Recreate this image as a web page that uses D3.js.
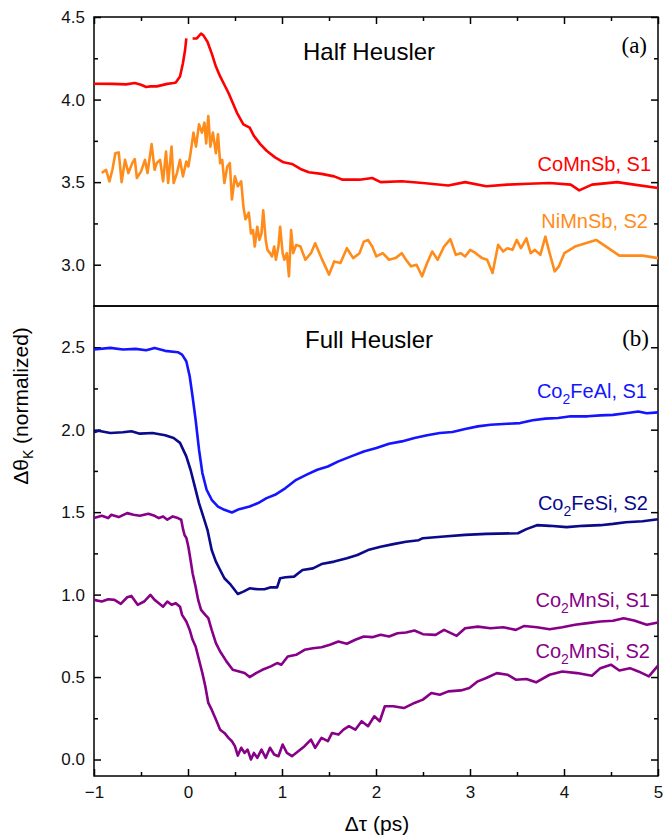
<!DOCTYPE html>
<html>
<head>
<meta charset="utf-8">
<script src="https://cdn.jsdelivr.net/npm/d3@7"></script>
<style>
  html, body { margin: 0; padding: 0; background: #fff; }
  svg { display: block; }
  text { font-family: "Liberation Sans", Arial, sans-serif; }
</style>
</head>
<body>
<svg id="chart" width="663" height="839"></svg>
<script>
// ---------- data ----------
const xTickValues = [-1, 0, 1, 2, 3, 4, 5];
const topTickValues = [3.0, 3.5, 4.0, 4.5];
const bottomTickValues = [0.0, 0.5, 1.0, 1.5, 2.0, 2.5];

const coMnSb = [[-1.00,4.096],[-0.80,4.095],[-0.66,4.092],[-0.566,4.10],[-0.50,4.09],[-0.445,4.076],[-0.40,4.08],[-0.333,4.08],[-0.22,4.095],[-0.153,4.10],[-0.13,4.104],[-0.085,4.14],[-0.054,4.22],[-0.031,4.30],[-0.018,4.37],null,[0.049,4.37],[0.094,4.37],[0.139,4.40],[0.162,4.39],[0.207,4.35],[0.252,4.28],[0.297,4.20],[0.342,4.14],[0.431,4.04],[0.521,3.92],[0.589,3.85],[0.656,3.83],[0.701,3.78],[0.769,3.73],[0.836,3.69],[0.926,3.65],[1.016,3.62],[1.106,3.61],[1.196,3.58],[1.285,3.56],[1.42,3.55],[1.555,3.535],[1.645,3.515],[1.825,3.515],[1.96,3.525],[2.049,3.50],[2.274,3.505],[2.499,3.495],[2.769,3.48],[2.948,3.50],[3.173,3.475],[3.398,3.485],[3.622,3.49],[3.847,3.495],[4.072,3.485],[4.162,3.45],[4.297,3.485],[4.566,3.50],[4.746,3.485],[5.00,3.465]];

const niMnSb = [[-0.917,3.555],[-0.872,3.575],[-0.836,3.505],[-0.804,3.575],[-0.773,3.675],[-0.737,3.68],[-0.706,3.50],[-0.670,3.635],[-0.634,3.555],[-0.593,3.615],[-0.566,3.64],[-0.544,3.525],[-0.499,3.565],[-0.458,3.635],[-0.431,3.555],[-0.387,3.73],[-0.355,3.575],[-0.333,3.615],[-0.297,3.635],[-0.265,3.505],[-0.234,3.685],[-0.211,3.495],[-0.175,3.715],[-0.153,3.495],[-0.117,3.555],[-0.085,3.635],[-0.054,3.535],[-0.018,3.625],[0.004,3.595],[0.027,3.675],[0.058,3.80],[0.085,3.715],[0.117,3.85],[0.148,3.80],[0.175,3.86],[0.193,3.735],[0.216,3.90],[0.238,3.715],[0.265,3.80],[0.297,3.675],[0.319,3.79],[0.342,3.615],[0.364,3.635],[0.387,3.495],[0.418,3.595],[0.445,3.615],[0.467,3.395],[0.499,3.535],[0.530,3.475],[0.566,3.505],[0.589,3.355],[0.611,3.275],[0.647,3.315],[0.670,3.19],[0.692,3.21],[0.710,3.11],[0.737,3.23],[0.760,3.15],[0.782,3.19],[0.800,3.33],[0.827,3.15],[0.845,3.09],[0.872,3.07],[0.894,3.05],[0.917,3.11],[0.935,3.03],[0.962,3.11],[0.980,3.23],[1.007,3.07],[1.025,3.03],[1.052,3.07],[1.074,2.93],[1.097,3.21],[1.119,3.07],[1.151,3.12],[1.196,3.11],[1.249,3.03],[1.308,3.07],[1.353,3.13],[1.420,3.04],[1.501,2.94],[1.555,3.02],[1.622,3.01],[1.690,3.10],[1.757,3.04],[1.825,3.07],[1.870,3.14],[1.915,3.15],[1.960,3.11],[2.004,3.05],[2.072,3.07],[2.139,3.03],[2.207,3.04],[2.274,3.07],[2.319,3.03],[2.373,2.99],[2.431,3.00],[2.490,2.93],[2.544,3.01],[2.598,3.08],[2.656,3.03],[2.724,3.11],[2.791,3.155],[2.849,3.06],[2.903,3.07],[2.948,3.05],[3.002,3.09],[3.061,3.07],[3.128,3.04],[3.182,3.03],[3.240,2.95],[3.299,3.12],[3.353,3.08],[3.398,3.10],[3.452,3.09],[3.497,3.15],[3.542,3.10],[3.600,3.16],[3.645,3.07],[3.690,3.09],[3.748,3.06],[3.802,3.17],[3.847,3.07],[3.901,2.96],[3.946,2.99],[4.004,3.07],[4.117,3.11],[4.342,3.15],[4.589,3.055],[4.836,3.055],[5.00,3.04]];

const co2FeAl = [[-1.00,2.486],[-0.827,2.496],[-0.692,2.486],[-0.557,2.49],[-0.445,2.482],[-0.355,2.496],[-0.243,2.478],[-0.108,2.47],[-0.063,2.455],[-0.018,2.415],[0.018,2.324],[0.049,2.20],[0.081,2.06],[0.117,1.88],[0.153,1.737],[0.198,1.636],[0.252,1.575],[0.319,1.534],[0.387,1.514],[0.467,1.498],[0.544,1.518],[0.656,1.534],[0.746,1.555],[0.836,1.585],[0.926,1.605],[1.038,1.646],[1.151,1.696],[1.263,1.727],[1.375,1.757],[1.488,1.777],[1.600,1.808],[1.735,1.838],[1.870,1.868],[2.004,1.889],[2.139,1.915],[2.274,1.929],[2.409,1.95],[2.544,1.966],[2.679,1.98],[2.813,1.986],[2.948,2.004],[3.083,2.02],[3.218,2.03],[3.398,2.036],[3.533,2.04],[3.667,2.057],[3.802,2.067],[3.937,2.071],[4.072,2.081],[4.252,2.081],[4.387,2.087],[4.521,2.09],[4.656,2.10],[4.791,2.11],[4.881,2.10],[5.00,2.105]];

const co2FeSi = [[-1.00,1.984],[-0.953,1.994],[-0.827,1.98],[-0.692,1.984],[-0.602,1.99],[-0.512,1.976],[-0.378,1.98],[-0.243,1.966],[-0.153,1.95],[-0.085,1.92],[-0.018,1.838],[0.027,1.757],[0.072,1.656],[0.117,1.555],[0.162,1.474],[0.207,1.393],[0.252,1.27],[0.297,1.20],[0.342,1.149],[0.387,1.099],[0.454,1.06],[0.530,1.004],[0.589,1.018],[0.656,1.038],[0.746,1.032],[0.813,1.032],[0.881,1.044],[0.948,1.044],[0.980,1.099],[1.038,1.105],[1.128,1.109],[1.218,1.149],[1.330,1.159],[1.420,1.185],[1.555,1.20],[1.690,1.22],[1.802,1.24],[1.915,1.27],[2.049,1.29],[2.184,1.306],[2.319,1.32],[2.454,1.33],[2.499,1.342],[2.724,1.352],[2.948,1.362],[3.173,1.368],[3.510,1.372],[3.600,1.397],[3.712,1.421],[3.847,1.417],[4.027,1.409],[4.207,1.417],[4.387,1.421],[4.521,1.429],[4.656,1.439],[4.836,1.445],[5.00,1.457]];

const co2MnSiS1 = [[-1.00,1.464],[-0.917,1.478],[-0.849,1.464],[-0.818,1.484],[-0.737,1.47],[-0.647,1.494],[-0.580,1.484],[-0.512,1.478],[-0.422,1.49],[-0.355,1.478],[-0.310,1.464],[-0.265,1.474],[-0.220,1.454],[-0.162,1.474],[-0.108,1.464],[-0.072,1.454],[-0.054,1.40],[-0.036,1.36],[-0.018,1.345],[0.004,1.29],[0.027,1.21],[0.049,1.13],[0.081,1.048],[0.108,0.968],[0.139,0.907],[0.184,0.877],[0.216,0.857],[0.252,0.786],[0.297,0.706],[0.342,0.655],[0.409,0.595],[0.476,0.544],[0.544,0.534],[0.602,0.524],[0.656,0.50],[0.724,0.524],[0.791,0.544],[0.881,0.565],[0.948,0.585],[0.993,0.575],[1.061,0.625],[1.151,0.635],[1.240,0.665],[1.330,0.675],[1.420,0.681],[1.510,0.696],[1.600,0.716],[1.690,0.702],[1.780,0.726],[1.870,0.746],[1.960,0.742],[2.049,0.756],[2.139,0.746],[2.229,0.766],[2.319,0.77],[2.409,0.782],[2.499,0.76],[2.634,0.756],[2.724,0.786],[2.858,0.75],[2.948,0.796],[3.083,0.806],[3.218,0.796],[3.353,0.802],[3.488,0.786],[3.578,0.81],[3.712,0.802],[3.847,0.79],[3.982,0.802],[4.117,0.817],[4.252,0.827],[4.387,0.837],[4.521,0.841],[4.634,0.857],[4.746,0.843],[4.881,0.817],[5.00,0.831]];

const co2MnSiS2 = [[-1.00,0.968],[-0.917,0.958],[-0.849,0.972],[-0.782,0.968],[-0.715,0.944],[-0.647,0.984],[-0.602,0.992],[-0.535,0.938],[-0.467,0.958],[-0.400,0.998],[-0.355,0.968],[-0.310,0.948],[-0.265,0.927],[-0.220,0.958],[-0.175,0.938],[-0.130,0.948],[-0.085,0.927],[-0.063,0.877],[-0.018,0.837],[0.018,0.786],[0.049,0.726],[0.081,0.685],[0.117,0.605],[0.153,0.524],[0.184,0.444],[0.216,0.343],[0.252,0.302],[0.297,0.242],[0.342,0.181],[0.387,0.161],[0.431,0.131],[0.467,0.111],[0.499,0.081],[0.530,0.024],[0.566,0.071],[0.602,0.04],[0.634,0.06],[0.670,0.0],[0.701,0.04],[0.737,0.01],[0.782,0.06],[0.827,0.01],[0.872,0.071],[0.917,0.03],[0.962,0.02],[1.007,0.091],[1.052,0.04],[1.106,0.02],[1.173,0.05],[1.240,0.081],[1.308,0.121],[1.353,0.071],[1.420,0.131],[1.488,0.111],[1.533,0.161],[1.600,0.151],[1.654,0.181],[1.712,0.202],[1.780,0.181],[1.847,0.232],[1.915,0.202],[1.982,0.262],[2.040,0.232],[2.094,0.323],[2.184,0.323],[2.297,0.312],[2.409,0.343],[2.499,0.363],[2.589,0.403],[2.679,0.393],[2.769,0.413],[2.903,0.419],[2.993,0.433],[3.083,0.474],[3.173,0.494],[3.285,0.524],[3.398,0.514],[3.488,0.484],[3.600,0.488],[3.703,0.468],[3.847,0.514],[3.982,0.534],[4.139,0.524],[4.297,0.508],[4.387,0.554],[4.499,0.575],[4.589,0.54],[4.701,0.554],[4.791,0.534],[4.903,0.504],[5.00,0.569]];

const seriesTop = [
  { name: "CoMnSb, S1", data: coMnSb, color: "#ff0000" },
  { name: "NiMnSb, S2", data: niMnSb, color: "#ff8c1a" }
];
const seriesBottom = [
  { name: ["Co", "2", "FeAl, S1"], data: co2FeAl, color: "#1414ff" },
  { name: ["Co", "2", "FeSi, S2"], data: co2FeSi, color: "#0a0a8a" },
  { name: ["Co", "2", "MnSi, S1"], data: co2MnSiS1, color: "#870087" },
  { name: ["Co", "2", "MnSi, S2"], data: co2MnSiS2, color: "#870087" }
];

// ---------- layout ----------
const L = 94, R = 658, T = 17, MID = 306, B = 776;
const svg = d3.select("#chart");

const x = d3.scaleLinear().domain([-1, 5]).range([L, R]);
const yTop = d3.scaleLinear().domain([2.75, 4.5]).range([MID, T]);
const yBot = d3.scaleLinear().domain([-0.1, 2.75]).range([B, MID]);

const minorX = d3.range(-0.5, 5, 1);
const minorTop = [3.25, 3.75, 4.25];
const minorBot = [0.25, 0.75, 1.25, 1.75, 2.25];

function styleAxis(g) {
  g.select(".domain").remove();
  g.selectAll(".tick line").attr("stroke", "#000").attr("stroke-width", 1.5);
  g.selectAll(".tick text").attr("fill", "#111").style("font-size", "17px")
    .style("font-family", "'Liberation Sans', Arial, sans-serif");
}

// Top panel axes
svg.append("g").attr("transform", `translate(${L},0)`)
  .call(d3.axisLeft(yTop).tickValues(topTickValues).tickFormat(d3.format(".1f")).tickSize(-7).tickPadding(9))
  .call(styleAxis);
svg.append("g").attr("transform", `translate(${L},0)`)
  .call(d3.axisLeft(yTop).tickValues(minorTop).tickFormat("").tickSize(-4))
  .call(styleAxis);
svg.append("g").attr("transform", `translate(${R},0)`)
  .call(d3.axisRight(yTop).tickValues(topTickValues).tickFormat("").tickSize(-7))
  .call(styleAxis);
svg.append("g").attr("transform", `translate(${R},0)`)
  .call(d3.axisRight(yTop).tickValues(minorTop).tickFormat("").tickSize(-4))
  .call(styleAxis);
svg.append("g").attr("transform", `translate(0,${T})`)
  .call(d3.axisTop(x).tickValues(xTickValues).tickFormat("").tickSize(-7))
  .call(styleAxis);
svg.append("g").attr("transform", `translate(0,${T})`)
  .call(d3.axisTop(x).tickValues(minorX).tickFormat("").tickSize(-4))
  .call(styleAxis);

// Bottom panel axes
svg.append("g").attr("transform", `translate(${L},0)`)
  .call(d3.axisLeft(yBot).tickValues(bottomTickValues).tickFormat(d3.format(".1f")).tickSize(-7).tickPadding(9))
  .call(styleAxis);
svg.append("g").attr("transform", `translate(${L},0)`)
  .call(d3.axisLeft(yBot).tickValues(minorBot).tickFormat("").tickSize(-4))
  .call(styleAxis);
svg.append("g").attr("transform", `translate(${R},0)`)
  .call(d3.axisRight(yBot).tickValues(bottomTickValues).tickFormat("").tickSize(-7))
  .call(styleAxis);
svg.append("g").attr("transform", `translate(${R},0)`)
  .call(d3.axisRight(yBot).tickValues(minorBot).tickFormat("").tickSize(-4))
  .call(styleAxis);
svg.append("g").attr("transform", `translate(0,${B})`)
  .call(d3.axisBottom(x).tickValues(xTickValues).tickFormat(d3.format("d")).tickSize(-7).tickPadding(10))
  .call(styleAxis);
svg.append("g").attr("transform", `translate(0,${B})`)
  .call(d3.axisBottom(x).tickValues(minorX).tickFormat("").tickSize(-4))
  .call(styleAxis);

// Frames
svg.append("rect").attr("x", L).attr("y", T).attr("width", R - L).attr("height", MID - T)
  .attr("fill", "none").attr("stroke", "#000").attr("stroke-width", 1.5);
svg.append("rect").attr("x", L).attr("y", MID).attr("width", R - L).attr("height", B - MID)
  .attr("fill", "none").attr("stroke", "#000").attr("stroke-width", 1.5);

// Lines
const lineTop = d3.line().defined(d => d !== null).x(d => x(d[0])).y(d => yTop(d[1]));
const lineBot = d3.line().defined(d => d !== null).x(d => x(d[0])).y(d => yBot(d[1]));

seriesTop.forEach(s => {
  svg.append("path").datum(s.data).attr("d", lineTop).attr("fill", "none")
    .attr("stroke", s.color).attr("stroke-width", 2.6).attr("stroke-linejoin", "round");
});
seriesBottom.forEach(s => {
  svg.append("path").datum(s.data).attr("d", lineBot).attr("fill", "none")
    .attr("stroke", s.color).attr("stroke-width", 2.6).attr("stroke-linejoin", "round");
});

// Series labels
const labelPosTop = [[651, 171], [648, 228]];
seriesTop.forEach((s, i) => {
  svg.append("text").attr("x", labelPosTop[i][0]).attr("y", labelPosTop[i][1])
    .attr("text-anchor", "end").attr("fill", s.color).style("font-size", "20px").text(s.name);
});
const labelPosBot = [[647, 398], [648, 510], [650, 607], [650, 658]];
seriesBottom.forEach((s, i) => {
  const t = svg.append("text").attr("x", labelPosBot[i][0]).attr("y", labelPosBot[i][1])
    .attr("text-anchor", "end").attr("fill", s.color).style("font-size", "20px");
  t.append("tspan").text(s.name[0]);
  t.append("tspan").attr("dy", 6).style("font-size", "14px").text(s.name[1]);
  t.append("tspan").attr("dy", -6).text(s.name[2]);
});

// Panel titles
svg.append("text").attr("x", 303).attr("y", 60).style("font-size", "24px").attr("fill", "#000").text("Half Heusler");
svg.append("text").attr("x", 305).attr("y", 348).style("font-size", "24px").attr("fill", "#000").text("Full Heusler");
svg.append("text").attr("x", 647).attr("y", 53).attr("text-anchor", "end")
  .style("font-family", "'Liberation Serif', 'Times New Roman', serif").style("font-size", "23px").attr("fill", "#000").text("(a)");
svg.append("text").attr("x", 649).attr("y", 346).attr("text-anchor", "end")
  .style("font-family", "'Liberation Serif', 'Times New Roman', serif").style("font-size", "23px").attr("fill", "#000").text("(b)");

// Axis titles
svg.append("text").attr("x", 377).attr("y", 831).attr("text-anchor", "middle")
  .style("font-size", "21px").attr("fill", "#000").text("Δτ (ps)");
const yt = svg.append("text").attr("transform", "translate(28,406) rotate(-90)")
  .attr("text-anchor", "middle").style("font-size", "21px").attr("fill", "#000");
yt.append("tspan").text("Δθ");
yt.append("tspan").attr("dy", 5).style("font-size", "14px").text("K");
yt.append("tspan").attr("dy", -5).text(" (normalized)");
</script>
</body>
</html>
